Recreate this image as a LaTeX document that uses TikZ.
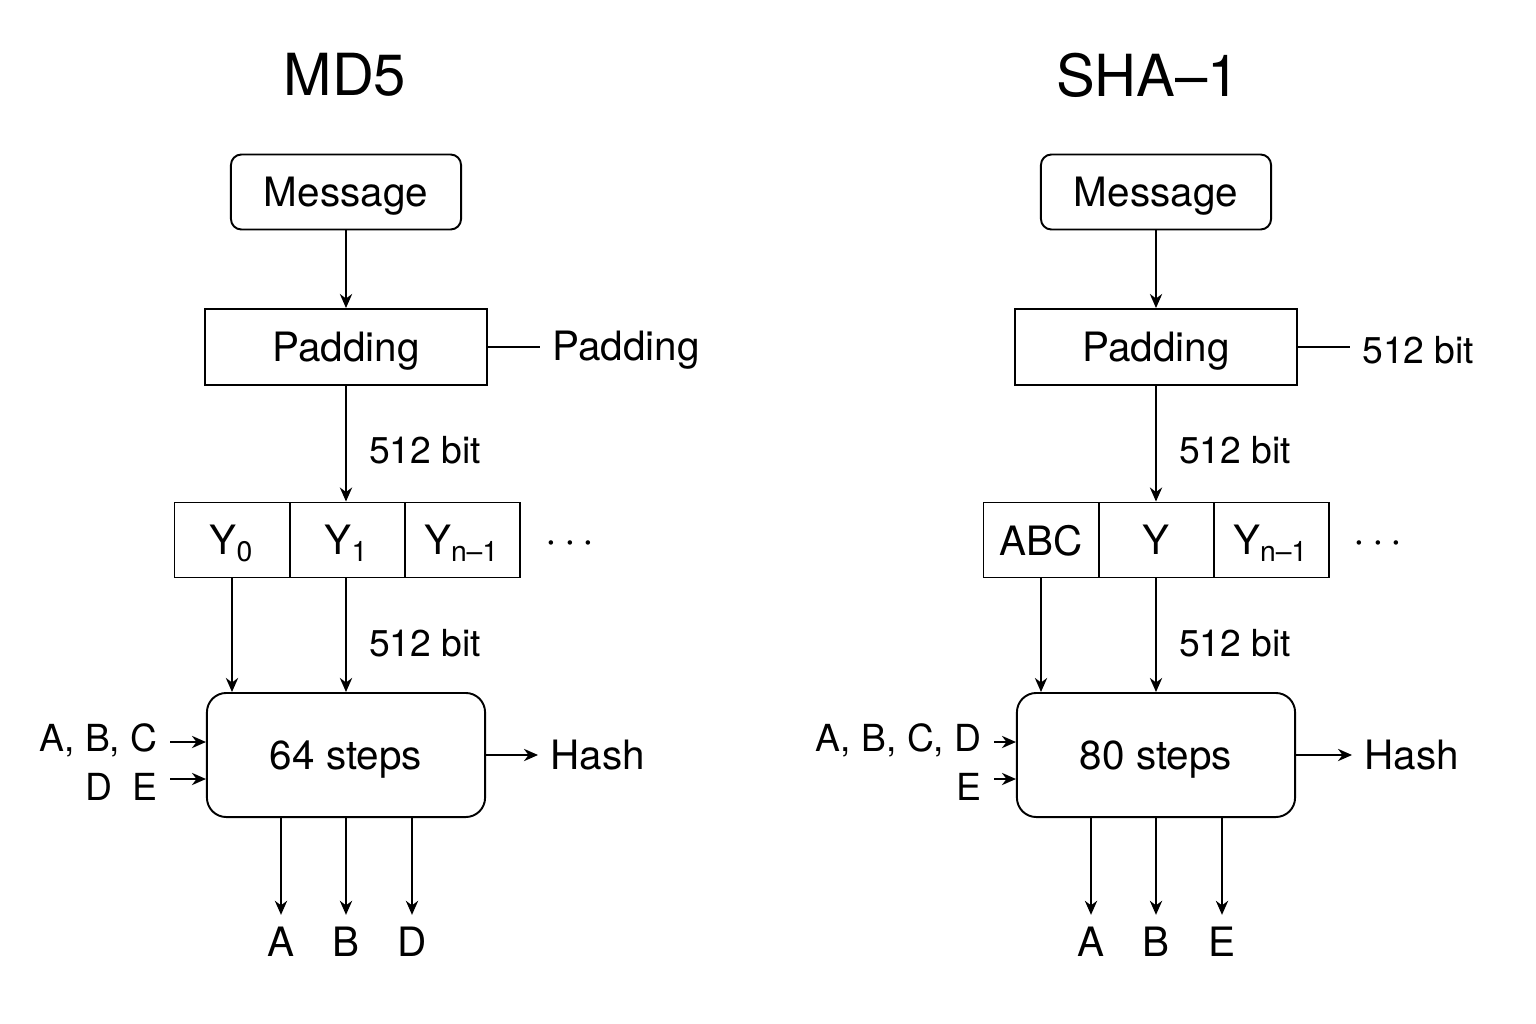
\documentclass[tikz,border=0pt]{standalone}
\usepackage{fontspec}
\setmainfont{TeX Gyre Heros}
\usetikzlibrary{arrows.meta}

\tikzset{
    arr/.style={-{Stealth[length=4pt,width=3.5pt]}, line width=0.5pt},
    conn/.style={line width=0.5pt},
    msgbox/.style={draw, line width=0.55pt, rounded corners=3pt, minimum width=2.3cm, minimum height=0.75cm, text depth=0pt, font=\fontsize{11.5}{13}\selectfont},
    padbox/.style={draw, line width=0.55pt, minimum width=2.82cm, minimum height=0.76cm, text depth=0pt, font=\fontsize{11.5}{13}\selectfont},
    cell/.style={draw, line width=0.55pt, minimum width=1.15cm, minimum height=0.75cm, text depth=0pt, font=\fontsize{11.5}{13}\selectfont},
    stepbox/.style={draw, line width=0.55pt, rounded corners=5.5pt, minimum width=2.78cm, minimum height=1.24cm, text depth=0pt, font=\fontsize{11.5}{13}\selectfont},
    lbl/.style={font=\fontsize{11.5}{13}\selectfont},
    bitlbl/.style={font=\fontsize{10.6}{12}\selectfont},
    inlbl/.style={font=\fontsize{10.6}{12}\selectfont},
    ttl/.style={font=\fontsize{16.5}{19}\selectfont},
}

\begin{document}
\begin{tikzpicture}[x=0.01cm, y=-0.01cm]
    \useasboundingbox (0,0) rectangle (1536,1024);
    %! --- MD5 ---
    \node[ttl] (md-title) at (345,75) {MD5};
    \node[msgbox] (md-msg) at (346,192) {Message};
    \node[padbox] (md-pad) at (346,347) {Padding};
    \node[lbl, anchor=west] (md-padlbl) at (540,350) {Padding};
    % Blocks
    \foreach \i/\x/\t in {0/232/Y\textsubscript{0}, 1/347/Y\textsubscript{1}, 2/462/Y\textsubscript{n–1}} {
        \node[cell] (md-y\i) at (\x,540) {\t};
    }
    \node[lbl] (md-dots) at (570,544) {$\cdots$};
    \node[stepbox] (md-steps) at (346,755) {64 steps};
    % Inputs and outputs
    \node[inlbl, anchor=east] (md-in1) at (170,740) {A, B, C};
    \node[inlbl, anchor=east] (md-in2) at (170,787) {D\ \ E};
    \node[lbl, anchor=west] (md-hash) at (538,755) {Hash};
    \foreach \n/\x/\t in {a/281/A, b/346/B, c/412/D} {
        \node[lbl] (md-out\n) at (\x,942) {\t};
        \draw[arr] (md-steps.south -| md-out\n) -- (md-out\n.north);
    }
    % Connectors
    \draw[arr] (md-msg) -- (md-pad);
    \draw[conn] (md-pad.east) -- (md-pad.east -| md-padlbl.west);
    \draw[arr] (md-pad) -- (md-pad |- md-y1.north) node[bitlbl, pos=0.56, right=3pt] {512 bit};
    \draw[arr] (md-y0) -- (md-y0 |- md-steps.north);
    \draw[arr] (md-pad |- md-y1.south) -- (md-steps) node[bitlbl, pos=0.57, right=3pt] {512 bit};
    \draw[arr] (md-in1.east |- 0,742) -- (md-steps.west |- 0,742);
    \draw[arr] (md-in1.east |- 0,779) -- (md-steps.west |- 0,779);
    \draw[arr] (md-steps) -- (md-hash);

    %! --- SHA-1 ---
    \node[ttl] (sha-title) at (1148,75) {SHA–1};
    \node[msgbox] (sha-msg) at (1156,192) {Message};
    \node[padbox] (sha-pad) at (1156,347) {Padding};
    \node[bitlbl, anchor=west] (sha-padlbl) at (1350,350) {512 bit};
    % Blocks
    \foreach \i/\x/\t in {0/1041/ABC, 1/1156/Y, 2/1271/Y\textsubscript{n–1}} {
        \node[cell] (sha-y\i) at (\x,540) {\t};
    }
    \node[lbl] (sha-dots) at (1378,544) {$\cdots$};
    \node[stepbox] (sha-steps) at (1156,755) {80 steps};
    % Inputs and outputs
    \node[inlbl, anchor=east] (sha-in1) at (994,740) {A, B, C, D};
    \node[inlbl, anchor=east] (sha-in2) at (994,787) {E};
    \node[lbl, anchor=west] (sha-hash) at (1352,755) {Hash};
    \foreach \n/\x/\t in {a/1091/A, b/1156/B, c/1222/E} {
        \node[lbl] (sha-out\n) at (\x,942) {\t};
        \draw[arr] (sha-steps.south -| sha-out\n) -- (sha-out\n.north);
    }
    % Connectors
    \draw[arr] (sha-msg) -- (sha-pad);
    \draw[conn] (sha-pad.east) -- (sha-pad.east -| sha-padlbl.west);
    \draw[arr] (sha-pad) -- (sha-pad |- sha-y1.north) node[bitlbl, pos=0.56, right=3pt] {512 bit};
    \draw[arr] (sha-y0) -- (sha-y0 |- sha-steps.north);
    \draw[arr] (sha-pad |- sha-y1.south) -- (sha-steps) node[bitlbl, pos=0.57, right=3pt] {512 bit};
    \draw[arr] (sha-in1.east |- 0,742) -- (sha-steps.west |- 0,742);
    \draw[arr] (sha-in1.east |- 0,779) -- (sha-steps.west |- 0,779);
    \draw[arr] (sha-steps) -- (sha-hash);
\end{tikzpicture}
\end{document}
